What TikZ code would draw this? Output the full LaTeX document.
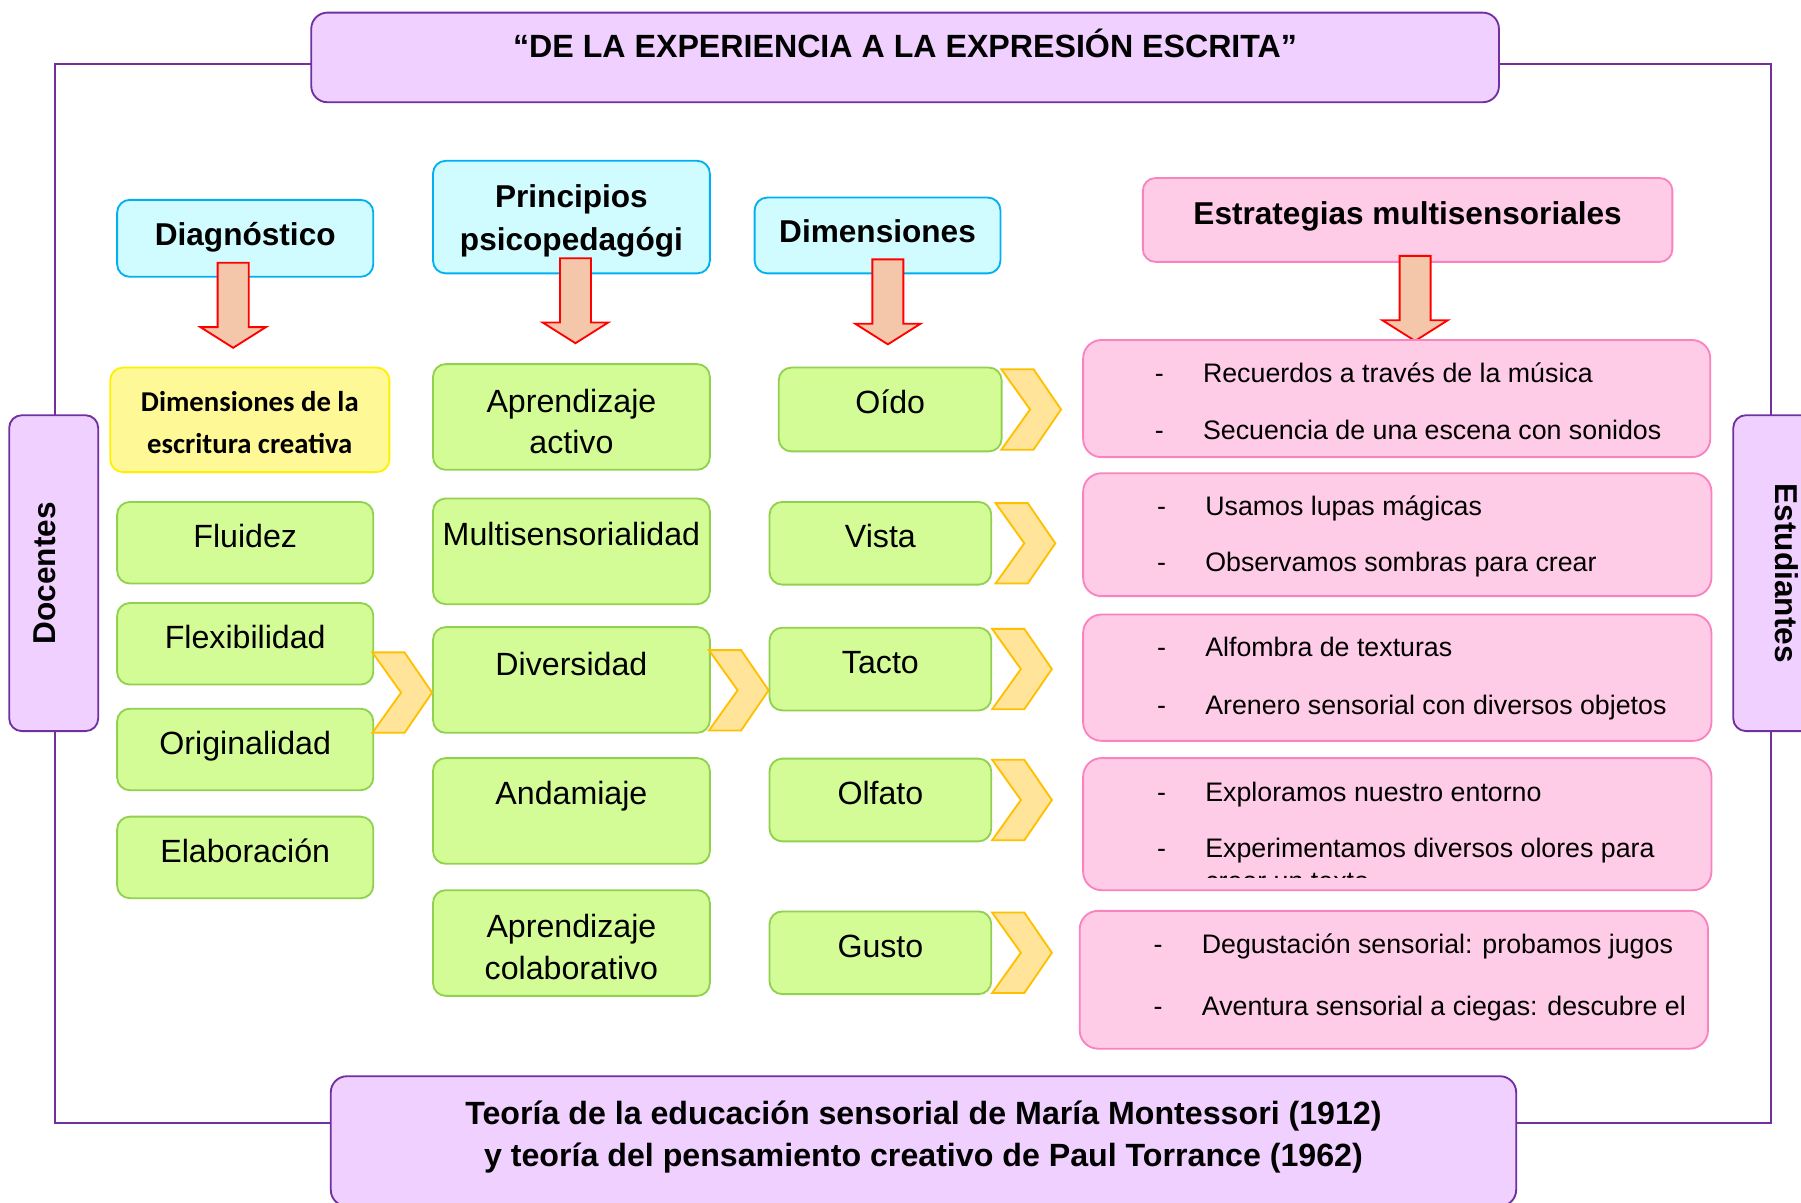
\documentclass[tikz,border=0pt]{standalone}
\usepackage{fontspec}
\setmainfont{Liberation Sans}
\newfontfamily\calibri{Carlito}
\usetikzlibrary{calc}

\definecolor{lilac}{RGB}{240,208,255}
\definecolor{purpleline}{RGB}{112,48,160}
\definecolor{cyanfill}{RGB}{208,252,255}
\definecolor{cyanline}{RGB}{0,176,240}
\definecolor{greenfill}{RGB}{212,252,150}
\definecolor{greenline}{RGB}{146,208,80}
\definecolor{yellowfill}{RGB}{255,248,150}
\definecolor{yellowline}{RGB}{255,240,0}
\definecolor{pinkfill}{RGB}{255,204,232}
\definecolor{pinkline}{RGB}{250,130,190}
\definecolor{chevfill}{RGB}{255,228,153}
\definecolor{chevline}{RGB}{255,192,0}
\definecolor{peach}{RGB}{244,199,170}

% struts for the first and the last line of two-line boxes
\newcommand\upstrut[1]{\rule{0pt}{#1}}
\newcommand\downstrut[1]{\rule[-#1]{0pt}{#1}}

\tikzset{
  box/.style={draw, rounded corners=11pt, line width=1.6pt, inner sep=0pt, align=center},
  lift/.style={text height=20pt, text depth=#1},
  lilacbox/.style={box, fill=lilac, draw=purpleline, rounded corners=14pt,
    font=\bfseries\fontsize{28}{37}\selectfont},
  headbox/.style={box, fill=cyanfill, draw=cyanline, font=\bfseries\fontsize{27.5}{37}\selectfont},
  greenbox/.style={box, fill=greenfill, draw=greenline, font=\fontsize{28}{36}\selectfont},
  pinkbox/.style={box, fill=pinkfill, draw=pinkline, rounded corners=16pt},
  strline/.style={anchor=base west, inner sep=0pt, font=\fontsize{23.3}{26}\selectfont},
  frameline/.style={draw=purpleline, line width=1.6pt},
  chevpic/.pic={\draw[fill=chevfill, draw=chevline, line width=1.6pt]
    (0,0) -- (-24,-35) -- (-52,-35) -- (-27,0) -- (-52,35) -- (-24,35) -- cycle;},
  downarr/.pic={\draw[fill=peach, draw=red, line width=1.6pt]
    (-13.5,0) -- (13.5,0) -- (13.5,56) -- (28.5,56) -- (0,74) -- (-28.5,56) -- (-13.5,56) -- cycle;}
}

\begin{document}
\begin{tikzpicture}[x=1pt,y=-1pt]
\fill[white] (0,0) rectangle (1568,1047);
\useasboundingbox (0,0) rectangle (1568,1047);

% marco
\draw[frameline] (48,56) rectangle (1542,978);

% titulo, laterales y teorias
\node[lilacbox, lift=20pt, minimum width=1034pt, minimum height=78pt] (title) at (788,50)
  {“DE LA EXPERIENCIA A LA EXPRESIÓN ESCRITA”};
\node[lilacbox, rounded corners=11pt, lift=16pt, rotate=90, minimum width=275pt, minimum height=77.5pt,
  font=\bfseries\fontsize{27.5}{37}\selectfont] (doc) at (46.75,499) {Docentes};
\node[lilacbox, rounded corners=11pt, lift=16pt, rotate=-90, minimum width=275pt, minimum height=77.5pt,
  font=\bfseries\fontsize{27.5}{37}\selectfont] (stud) at (1547.75,499) {Estudiantes};
\node[lilacbox, minimum width=1032pt, minimum height=113pt] (theory) at (804,993.5)
  {\upstrut{30pt}Teoría de la educación sensorial de María Montessori (1912)\\
   y teoría del pensamiento creativo de Paul Torrance (1962)\downstrut{22pt}};

% encabezados
\node[headbox, lift=7pt, minimum width=223pt, minimum height=67pt] (diag) at (213.5,207.5) {Diagnóstico};
\node[headbox, minimum width=241pt, minimum height=98pt] (princ) at (497.5,189)
  {\upstrut{32pt}Principios\\psicopedagógi\downstrut{11.3pt}};
\node[headbox, lift=8pt, minimum width=214pt, minimum height=66pt] (dims) at (764,205) {Dimensiones};
\node[headbox, fill=pinkfill, draw=pinkline, lift=12pt, minimum width=461pt, minimum height=73pt]
  (strat) at (1225.5,191.5) {Estrategias multisensoriales};

\pic at ($(diag.south)+(-10.5,-13)$) {downarr};
\pic at ($(princ.south)+(3.5,-14)$) {downarr};
\pic at ($(dims.south)+(9,-13)$) {downarr};
\pic at ($(strat.south)+(6.5,-6)$) {downarr};

% columna 1
\node[box, fill=yellowfill, draw=yellowline, minimum width=243pt, minimum height=91pt,
  font=\calibri\bfseries\fontsize{25}{37}\selectfont] (crea) at (217.5,365.5)
  {\upstrut{32pt}Dimensiones de la\\escritura creativa\downstrut{10pt}};
\foreach \n/\y/\t in {fluid/472.5/Fluidez, flex/560.5/Flexibilidad,
                      orig/652.5/Originalidad, elab/746.5/Elaboración}
  \node[greenbox, lift=11pt, minimum width=223pt, minimum height=71pt] (\n) at (213.5,\y) {\t};

% columna 2
\node[greenbox, minimum width=241pt, minimum height=92pt] (activo) at (497.5,363)
  {\upstrut{38pt}Aprendizaje\\activo\downstrut{10pt}};
\node[greenbox, lift=30pt, minimum width=241pt, minimum height=92pt] (multi) at (497.5,480) {Multisensorialidad};
\node[greenbox, lift=28pt, minimum width=241pt, minimum height=92pt] (divers) at (497.5,592) {Diversidad};
\node[greenbox, lift=31pt, minimum width=241pt, minimum height=92pt] (andam) at (497.5,706) {Andamiaje};
\node[greenbox, minimum width=241pt, minimum height=92pt] (colab) at (497.5,821)
  {\upstrut{37pt}Aprendizaje\\colaborativo\downstrut{10pt}};

\pic at ($(divers.west)+(0,11)$) {chevpic};

% columna 3
\node[greenbox, lift=13pt, minimum width=194pt, minimum height=73pt] (oido) at (775,356.5) {Oído};
\foreach \n/\y/\t in {vista/473/Vista, tacto/582.5/Tacto, olfato/696.5/Olfato, gusto/829.5/Gusto}
  \node[greenbox, lift=12pt, minimum width=193pt, minimum height=72pt] (\n) at (766.5,\y) {\t};

\pic at ($(tacto.west)+(0,18.5)$) {chevpic};
\pic at ([xshift=51pt]oido.east) {chevpic};
\pic at ([xshift=55pt]vista.east) {chevpic};
\foreach \n in {tacto,olfato,gusto}
  \pic at ([xshift=52pt]\n.east) {chevpic};

% columna 4
\node[pinkbox, minimum width=546pt, minimum height=102pt] (s1) at (1216,347) {};
\node[pinkbox, minimum width=547pt, minimum height=107pt] (s2) at (1216.5,465.5) {};
\node[pinkbox, minimum width=547pt, minimum height=110pt] (s3) at (1216.5,590) {};
\node[pinkbox, minimum width=547pt, minimum height=115pt] (s4) at (1216.5,717.5) {};
\node[pinkbox, minimum width=547pt, minimum height=120pt] (s5) at (1213.5,853) {};

\node[strline] at ($(s1.north west)+(63,37.5)$) {\makebox[42pt][l]{-}Recuerdos a través de la música};
\node[strline] at ($(s1.north west)+(63,87.5)$) {\makebox[42pt][l]{-}Secuencia de una escena con sonidos};
\node[strline] at ($(s2.north west)+(65,37.5)$) {\makebox[42pt][l]{-}Usamos lupas mágicas};
\node[strline] at ($(s2.north west)+(65,86.5)$) {\makebox[42pt][l]{-}Observamos sombras para crear};
\node[strline] at ($(s3.north west)+(65,37.5)$) {\makebox[42pt][l]{-}Alfombra de texturas};
\node[strline] at ($(s3.north west)+(65,87.5)$) {\makebox[42pt][l]{-}Arenero sensorial con diversos objetos};
\node[strline] at ($(s4.north west)+(65,39)$) {\makebox[42pt][l]{-}Exploramos nuestro entorno};
\node[strline] at ($(s4.north west)+(65,87.5)$) {\makebox[42pt][l]{-}Experimentamos diversos olores para};
\begin{scope}
  \clip (s4.north west) rectangle ($(s4.south east)+(0,-11.5)$);
  \node[strline] at ($(s4.north west)+(107,116)$) {crear un texto};
\end{scope}
\node[strline] at ($(s5.north west)+(65,37.5)$) {\makebox[42pt][l]{-}Degustación sensorial: probamos jugos};
\node[strline] at ($(s5.north west)+(65,91.5)$) {\makebox[42pt][l]{-}Aventura sensorial a ciegas: descubre el};
\end{tikzpicture}
\end{document}
